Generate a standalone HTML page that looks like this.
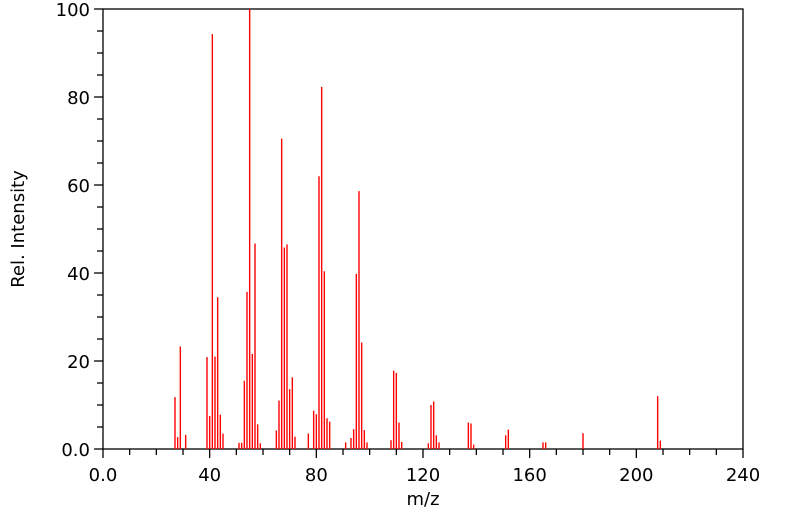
<!DOCTYPE html>
<html><head><meta charset="utf-8"><style>
body{margin:0;background:#fff}
svg{display:block}
text{font-family:"DejaVu Sans","Liberation Sans",sans-serif;font-size:18px;fill:#000}
</style></head><body>
<svg id="s" width="799" height="516" xmlns="http://www.w3.org/2000/svg">
<rect x="103" y="9" width="640" height="440" fill="none" stroke="#000" stroke-width="1.3"/>
<g id="g"></g>
<text x="423" y="505" text-anchor="middle">m/z</text>
<text transform="translate(24,229) rotate(-90)" text-anchor="middle">Rel. Intensity</text>
</svg>
<script>
var g=document.getElementById('g'),h='';
function X(m){return 103+m*640/240}
function Y(v){return 449-v*4.4}
for(var m=0;m<=240;m+=10){var maj=m%40==0;h+='<line x1="'+X(m)+'" x2="'+X(m)+'" y1="449" y2="'+(maj?458:455)+'" stroke="#000" stroke-width="1.3"/>';
if(maj)h+='<text x="'+X(m)+'" y="481" text-anchor="middle">'+(m==0?'0.0':m)+'</text>';}
for(var v=0;v<=100;v+=5){var maj=v%20==0;h+='<line y1="'+Y(v)+'" y2="'+Y(v)+'" x1="103" x2="'+(maj?94:97)+'" stroke="#000" stroke-width="1.3"/>';
if(maj)h+='<text x="90" y="'+(Y(v)+7)+'" text-anchor="end">'+(v==0?'0.0':v)+'</text>';}
var p=[[27,11.8],[28,2.7],[29,23.3],[31,3.2],[39,20.9],[40,7.5],[41,94.3],[42,21],[43,34.5],[44,7.8],[45,3.5],
[51,1.4],[52,1.4],[53,15.5],[54,35.7],[55,100],[56,21.6],[57,46.7],[58,5.6],[59,1.3],
[65,4.2],[66,11],[67,70.5],[68,45.8],[69,46.5],[70,13.6],[71,16.3],[72,2.8],
[77,3.5],[79,8.7],[80,7.9],[81,62],[82,82.3],[83,40.4],[84,7],[85,6.2],
[91,1.5],[93,2.5],[94,4.5],[95,39.8],[96,58.6],[97,24.2],[98,4.3],[99,1.5],
[108,2],[109,17.8],[110,17.3],[111,6],[112,1.6],
[122,1.3],[123,10],[124,10.8],[125,3.1],[126,1.5],
[137,6],[138,5.8],[139,1],[151,3.1],[152,4.4],[165,1.5],[166,1.5],[180,3.6],[208,12],[209,1.9]];
p.forEach(function(q){h+='<line x1="'+X(q[0])+'" x2="'+X(q[0])+'" y1="449" y2="'+Y(q[1])+'" stroke="#f00" stroke-width="1.4"/>';});
g.innerHTML=h;
</script>
</body></html>
